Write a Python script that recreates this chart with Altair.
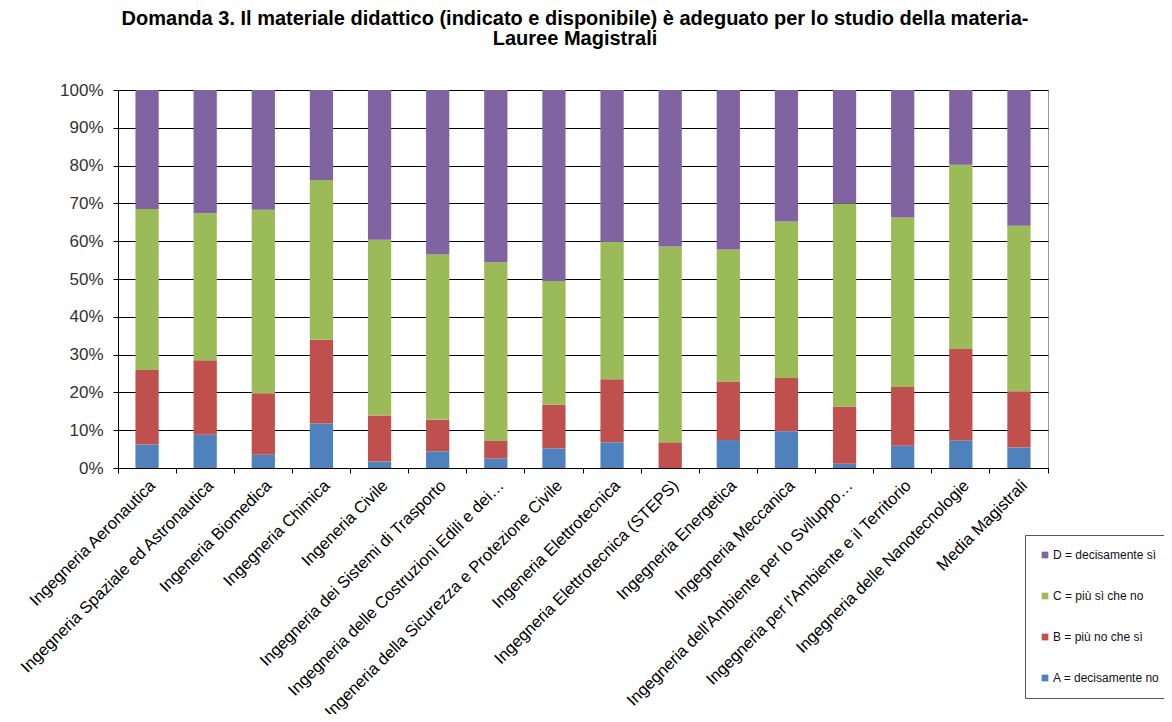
import altair as alt
import pandas as pd

categories = [
    "Ingegneria Aeronautica",
    "Ingegneria Spaziale ed Astronautica",
    "Ingeneria Biomedica",
    "Ingegneria Chimica",
    "Ingeneria Civile",
    "Ingegneria dei Sistemi di Trasporto",
    "Ingegneria delle Costruzioni Edili e dei…",
    "Ingeneria della Sicurezza e Protezione Civile",
    "Ingeneria Elettrotecnica",
    "Ingegneria Elettrotecnica (STEPS)",
    "Ingegneria Energetica",
    "Ingegneria Meccanica",
    "Ingegneria dell'Ambiente per lo Sviluppo…",
    "Ingegneria per l'Ambiente e il Territorio",
    "Ingegneria delle Nanotecnologie",
    "Media Magistrali",
]

series_names = [
    "A = decisamente no",
    "B = più no che sì",
    "C = più sì che no",
    "D = decisamente sì",
]

A = [6.2, 8.8, 3.5, 11.8, 1.7, 4.4, 2.5, 5.2, 6.8, 0.0, 7.4, 9.7, 1.1, 5.9, 7.3, 5.4]
B = [19.7, 19.7, 16.3, 22.1, 12.2, 8.4, 4.8, 11.5, 16.7, 6.8, 15.5, 14.1, 15.2, 15.5, 24.2, 14.9]
C = [42.6, 38.9, 48.5, 42.3, 46.5, 43.7, 47.1, 32.8, 36.3, 51.8, 34.9, 41.4, 53.7, 44.9, 48.7, 43.8]
D = [31.5, 32.6, 31.7, 23.8, 39.6, 43.5, 45.6, 50.5, 40.2, 41.4, 42.2, 34.8, 30.0, 33.7, 19.8, 35.9]

colors = ["#4F81BD", "#C0504D", "#9BBB59", "#8064A2"]
y_ticks = [0, 0.1, 0.2, 0.3, 0.4, 0.5, 0.6, 0.7, 0.8, 0.9, 1.0]

rows = []
for k, (name, vals) in enumerate(zip(series_names, [A, B, C, D])):
    for cat, v in zip(categories, vals):
        rows.append({"cat": cat, "serie": name, "k": k, "value": v / 100.0})
df = pd.DataFrame(rows)

FONT = "Liberation Sans, Arial, sans-serif"

chart = (
    alt.Chart(df)
    .mark_bar(width=alt.RelativeBandSize(0.4))
    .encode(
        x=alt.X(
            "cat:N",
            sort=categories,
            title=None,
            scale=alt.Scale(paddingInner=0, paddingOuter=0),
            axis=alt.Axis(
                labelAngle=-45,
                labelFontSize=16.5,
                labelColor="#000000",
                labelFont=FONT,
                labelPadding=4,
                labelLimit=500,
                bandPosition=1,
                tickExtra=True,
                tickColor="#000000",
                tickSize=5,
                domainColor="#000000",
                grid=False,
            ),
        ),
        y=alt.Y(
            "value:Q",
            stack="zero",
            title=None,
            scale=alt.Scale(domain=[0, 1], nice=False),
            axis=alt.Axis(
                format=".0%",
                values=y_ticks,
                labelFontSize=17,
                labelFont=FONT,
                labelColor="#333333",
                labelPadding=10,
                tickColor="#000000",
                tickSize=5,
                domainColor="#000000",
                grid=True,
                gridColor="#000000",
                gridWidth=1,
            ),
        ),
        color=alt.Color(
            "serie:N",
            scale=alt.Scale(domain=series_names[::-1], range=colors[::-1]),
            legend=alt.Legend(
                title=None,
                orient="none",
                legendX=907,
                legendY=445,
                direction="vertical",
                strokeColor="#555555",
                fillColor="#FFFFFF",
                padding=14,
                rowPadding=29,
                symbolType="square",
                symbolSize=45,
                symbolStrokeWidth=0,
                labelFontSize=12,
                labelFont=FONT,
                labelColor="#111111",
                labelOffset=2,
                labelLimit=300,
            ),
        ),
        order=alt.Order("k:Q", sort="ascending"),
    )
    .properties(
        width=930,
        height=378,
        title=alt.TitleParams(
            text=[
                "Domanda 3. Il materiale didattico (indicato e disponibile) è adeguato per lo studio della materia-",
                "Lauree Magistrali",
            ],
            font=FONT,
            fontSize=20,
            fontWeight="bold",
            color="#000000",
            anchor="middle",
            frame="group",
            offset=32,
            lineHeight=20,
            dx=-8,
        ),
        autosize=alt.AutoSizeParams(type="none"),
        padding={"left": 110, "top": 82, "right": 116, "bottom": 246},
    )
    .configure_view(stroke="#999999", strokeWidth=1)
)

chart.save("out.html", embed_options={"renderer": "svg", "actions": False})
